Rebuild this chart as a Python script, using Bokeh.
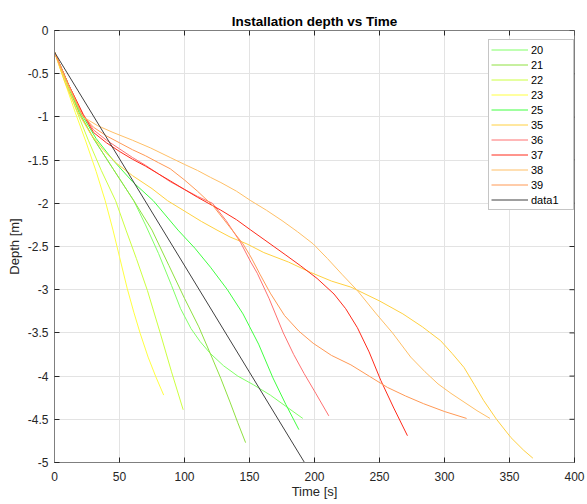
import math
from bokeh.plotting import figure
from bokeh.models import FixedTicker, Range1d, Legend, LegendItem
from bokeh.embed import file_html
from bokeh.resources import INLINE

# ---- data ----
t20 = [0, 10, 19, 30, 45, 61, 70, 80, 90, 97, 105, 112, 120, 130, 141, 153, 166, 178, 191]
d20 = [-0.25, -0.6, -0.95, -1.25, -1.6, -1.97, -2.25, -2.58, -2.95, -3.22, -3.45, -3.6, -3.74, -3.88, -4.0, -4.1, -4.22, -4.35, -4.49]
t21 = [0, 9, 19, 30, 45, 61, 75, 88, 100, 111, 121, 128, 135, 141, 147]
d21 = [-0.25, -0.6, -0.95, -1.25, -1.6, -1.97, -2.31, -2.72, -3.1, -3.43, -3.78, -4.03, -4.3, -4.54, -4.77]
t22 = [0, 8, 17, 26, 36, 47, 55, 63, 71.5, 81.5, 90, 99]
d22 = [-0.25, -0.57, -0.93, -1.27, -1.62, -1.97, -2.31, -2.64, -3.01, -3.51, -3.95, -4.39]
t23 = [0, 8, 16, 24, 32, 39, 45, 50, 56, 61, 66, 72, 78, 84]
d23 = [-0.25, -0.6, -0.95, -1.28, -1.63, -1.97, -2.31, -2.62, -2.99, -3.26, -3.51, -3.78, -4.01, -4.22]
t25 = [0, 10, 20, 32, 45, 60, 76, 95, 108, 120, 133, 145, 157, 168, 178, 188]
d25 = [-0.25, -0.6, -0.95, -1.25, -1.5, -1.75, -1.97, -2.31, -2.52, -2.74, -3.0, -3.28, -3.63, -4.02, -4.33, -4.62]
t35 = [0, 8, 18, 28, 38, 48, 60, 75, 87, 100, 113, 125, 135, 148, 161, 180, 197, 213, 228,
       250, 268, 283, 297, 306, 315, 323, 330, 340, 351, 361, 368]
d35 = [-0.25, -0.6, -0.95, -1.2, -1.39, -1.54, -1.68, -1.83, -1.97, -2.09, -2.21, -2.31, -2.39, -2.47, -2.57, -2.68, -2.8, -2.9, -2.97,
       -3.13, -3.28, -3.43, -3.59, -3.74, -3.9, -4.1, -4.28, -4.5, -4.71, -4.86, -4.95]
t36 = [0, 10, 22, 30, 40, 50, 60, 70, 80, 89, 100, 110, 121.5, 132, 143, 151, 156, 165, 176, 184, 192, 201, 211]
d36 = [-0.25, -0.6, -0.97, -1.15, -1.27, -1.37, -1.47, -1.56, -1.66, -1.75, -1.84, -1.92, -2.0, -2.2, -2.45, -2.68, -2.81, -3.1, -3.5, -3.75, -3.97, -4.2, -4.46]
t37 = [0, 10, 22, 30, 40, 50, 60, 70, 80, 89, 100, 110, 128, 140, 151, 165, 178, 189, 202, 215, 224, 233, 242, 251, 261, 271.5]
d37 = [-0.25, -0.6, -0.97, -1.18, -1.3, -1.4, -1.49, -1.57, -1.66, -1.74, -1.84, -1.93, -2.08, -2.19, -2.31, -2.46, -2.6, -2.72, -2.87, -3.05, -3.22, -3.44, -3.72, -4.05, -4.37, -4.69]
t38 = [0, 10, 22, 33, 45, 60, 74, 89, 100, 110, 120, 128, 140, 151, 163, 175, 187, 199, 210, 221, 233,
       247, 260, 274, 285, 295, 305, 315, 325, 335]
d38 = [-0.25, -0.62, -1.0, -1.1, -1.18, -1.27, -1.36, -1.47, -1.55, -1.62, -1.7, -1.76, -1.86, -1.97, -2.08, -2.2, -2.33, -2.47, -2.64, -2.82, -3.01,
       -3.27, -3.5, -3.78, -3.95, -4.09, -4.2, -4.3, -4.4, -4.49]
t39 = [0, 10, 21, 30, 40, 50, 60, 70, 80, 89, 100, 110, 122, 133, 145, 151, 158, 166, 177, 188, 199, 213, 228, 242, 256, 270, 284, 300, 317]
d39 = [-0.25, -0.6, -0.97, -1.12, -1.22, -1.3, -1.38, -1.45, -1.53, -1.6, -1.73, -1.86, -2.03, -2.24, -2.47, -2.62, -2.82, -3.04, -3.3, -3.48, -3.62, -3.76, -3.87, -4.0, -4.13, -4.23, -4.32, -4.41, -4.49]
t_fit = [0, 192.3]
d_fit = [-0.25, -5.0]

names = ["20", "21", "22", "23", "25", "35", "36", "37", "38", "39", "data1"]
colors = ["#80ff66", "#8fe040", "#ccff40", "#ffff40", "#40ff40", "#ffd040",
          "#ff7070", "#ff2a1a", "#ffbf66", "#ff9955", "#404040"]
series_t = [t20, t21, t22, t23, t25, t35, t36, t37, t38, t39, t_fit]
series_d = [d20, d21, d22, d23, d25, d35, d36, d37, d38, d39, d_fit]

x_ticks = [0, 50, 100, 150, 200, 250, 300, 350, 400]
y_ticks = [0, -0.5, -1, -1.5, -2, -2.5, -3, -3.5, -4, -4.5, -5]
y_tick_labels = ["0", "-0.5", "-1", "-1.5", "-2", "-2.5", "-3", "-3.5", "-4", "-4.5", "-5"]

FONT = "Liberation Sans"
AX = "#262626"
EDGE = "#7f7f7f"

p = figure(width=585, height=502, output_backend="svg", toolbar_location=None,
           x_range=Range1d(0, 400), y_range=Range1d(-5, 0),
           min_border_left=54, min_border_right=11, min_border_top=30, min_border_bottom=40,
           title="Installation depth vs Time", x_axis_label="Time [s]", y_axis_label="Depth [m]")
p.background_fill_color = "white"
p.border_fill_color = "white"
p.outline_line_color = EDGE
p.outline_line_width = 1

p.title.text_font = FONT
p.title.text_font_size = "13.5px"
p.title.text_font_style = "bold"
p.title.text_color = "#000000"
p.title.align = "center"
p.title.standoff = 4

for ax in (p.xaxis[0], p.yaxis[0]):
    ax.major_label_text_font = FONT
    ax.major_label_text_font_size = "12px"
    ax.major_label_text_color = AX
    ax.axis_label_text_font = FONT
    ax.axis_label_text_font_size = "13px"
    ax.axis_label_text_font_style = "normal"
    ax.axis_label_text_color = AX
    ax.axis_line_color = EDGE
    ax.major_tick_line_color = AX
    ax.major_tick_in = 5
    ax.major_tick_out = 0
    ax.minor_tick_line_color = None

p.xaxis[0].ticker = FixedTicker(ticks=x_ticks)
p.yaxis[0].ticker = FixedTicker(ticks=y_ticks)
p.yaxis[0].major_label_overrides = {v: s for v, s in zip(y_ticks, y_tick_labels)}
p.xaxis[0].major_label_standoff = 9
p.xaxis[0].axis_label_standoff = 0
p.yaxis[0].major_label_standoff = 6
p.yaxis[0].axis_label_standoff = 3

p.xgrid.ticker = FixedTicker(ticks=x_ticks)
p.ygrid.ticker = FixedTicker(ticks=y_ticks)
p.xgrid.grid_line_color = "#e3e3e3"
p.ygrid.grid_line_color = "#e3e3e3"

# ticks on the top and right edges of the box (half of each dash is clipped by the frame)
p.scatter(x_ticks, [0] * len(x_ticks), marker="dash", size=10, angle=math.pi / 2,
          line_color=AX, line_width=1)
p.scatter([400] * len(y_ticks), y_ticks, marker="dash", size=10,
          line_color=AX, line_width=1)

items = []
for name, c, tt, dd in zip(names, colors, series_t, series_d):
    r = p.line(tt, dd, line_color=c, line_width=1)
    items.append(LegendItem(label=name, renderers=[r]))

legend = Legend(items=items, location=(434, 252))
legend.label_text_font = FONT
legend.label_text_font_size = "11px"
legend.label_text_color = "#000000"
legend.label_height = 15
legend.glyph_height = 15
legend.glyph_width = 37
legend.label_width = 40
legend.label_standoff = 3
legend.spacing = 0
legend.padding = 2
legend.margin = 0
legend.border_line_color = "#8c8c8c"
legend.border_line_width = 1
legend.background_fill_color = "white"
legend.background_fill_alpha = 1
p.add_layout(legend, "center")

open("out.html", "w").write(file_html(p, INLINE))
